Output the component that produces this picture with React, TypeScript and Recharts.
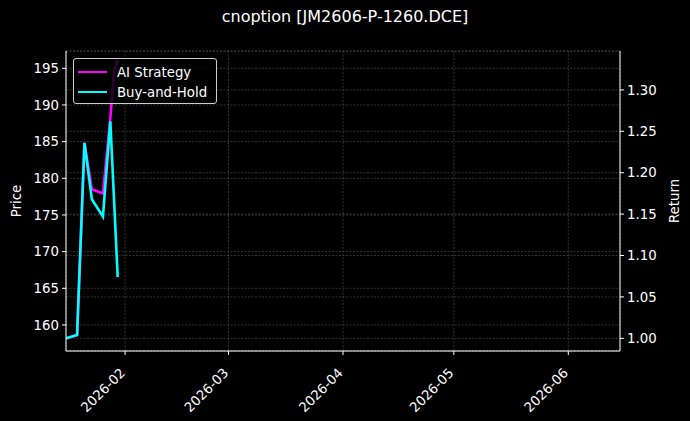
import { LineChart, Line, XAxis, YAxis, CartesianGrid, Legend } from 'recharts';

// dates of the sampled bars (UTC, 2026)
const dates = ['2026-01-16', '2026-01-19', '2026-01-21', '2026-01-23', '2026-01-26', '2026-01-28', '2026-01-29', '2026-01-30'];
// cumulative return of the strategy and of buy-and-hold
const aiStrategy = [1.0, 1.004, 1.236, 1.18, 1.175, 1.266, 1.322, 1.336];
const buyAndHold: (number | null)[] = [1.0, 1.004, 1.236, 1.168, 1.147, 1.262, null, 1.074];

const monthTicks = ['2026-02-01', '2026-03-01', '2026-04-01', '2026-05-01', '2026-06-01'];
const priceTicks = [160, 165, 170, 175, 180, 185, 190, 195];
const returnTicks = [1.0, 1.05, 1.1, 1.15, 1.2, 1.25, 1.3];

const toTs = (d: string) => Date.parse(d + 'T00:00:00Z');
const xDomain = [toTs('2026-01-16'), toTs('2026-06-15')];

const data = dates.map((d, i) => ({ t: toTs(d), ai: aiStrategy[i], bh: buyAndHold[i] }));

const FONT = '"DejaVu Sans", sans-serif';
const AI_COLOR = '#ff00ff';
const BH_COLOR = '#00ffff';

function fmtMonth(ts: number) {
  const d = new Date(ts);
  return `${d.getUTCFullYear()}-${String(d.getUTCMonth() + 1).padStart(2, '0')}`;
}

function DateTick({ x, y, payload }: any) {
  const ax = x - 6;
  const ay = y + 10;
  return (
    <text
      x={ax}
      y={ay}
      transform={`rotate(-45 ${ax} ${ay})`}
      textAnchor="end"
      dominantBaseline="hanging"
      fill="#ffffff"
      fontSize={13.3}
      fontFamily={FONT}
    >
      {fmtMonth(payload.value)}
    </text>
  );
}

function LegendBox() {
  const items = [
    { name: 'AI Strategy', color: AI_COLOR },
    { name: 'Buy-and-Hold', color: BH_COLOR },
  ];
  return (
    <div
      style={{
        position: 'absolute',
        left: 73,
        top: 58,
        width: 144,
        height: 46,
        boxSizing: 'border-box',
        border: '1px solid #cccccc',
        borderRadius: 3,
        background: 'rgba(0,0,0,0.8)',
        padding: '3px 0 0 4px',
      }}
    >
      {items.map((it) => (
        <div key={it.name} style={{ display: 'flex', alignItems: 'center', height: 20 }}>
          <div style={{ width: 29, height: 2.5, background: it.color, marginRight: 10 }} />
          <span style={{ color: '#ffffff', fontSize: 13.3, fontFamily: FONT }}>{it.name}</span>
        </div>
      ))}
    </div>
  );
}

export default function App() {
  return (
    <div style={{ position: 'absolute', left: 0, top: 0, width: 690, height: 421, background: '#000000', fontFamily: FONT }}>
      <div style={{ position: 'absolute', left: 0, width: 690, top: 7, textAlign: 'center', color: '#ffffff', fontSize: 16 }}>
        cnoption [JM2606-P-1260.DCE]
      </div>
      <div style={{ position: 'absolute', left: 16, top: 201, transform: 'translate(-50%,-50%) rotate(-90deg)', color: '#ffffff', fontSize: 13.3 }}>
        Price
      </div>
      <div style={{ position: 'absolute', left: 674, top: 201, transform: 'translate(-50%,-50%) rotate(-90deg)', color: '#ffffff', fontSize: 13.3 }}>
        Return
      </div>
      <LineChart width={690} height={421} data={data} margin={{ top: 51, right: 10, bottom: 10, left: 10 }}>
        <CartesianGrid yAxisId="left" stroke="#555555" strokeWidth={0.6} strokeDasharray="2 1.5" />
        <CartesianGrid yAxisId="right" vertical={false} stroke="#555555" strokeWidth={0.6} strokeDasharray="2 1.5" />
        <XAxis
          dataKey="t"
          type="number"
          scale="time"
          domain={xDomain}
          ticks={monthTicks.map(toTs)}
          interval={0}
          tick={<DateTick />}
          tickSize={4}
          height={60}
          stroke="#ffffff"
          allowDataOverflow
        />
        <XAxis xAxisId="top" orientation="top" dataKey="t" type="number" domain={xDomain} tick={false} tickLine={false} height={0} stroke="#ffffff" />
        <YAxis
          yAxisId="left"
          orientation="left"
          type="number"
          domain={[156.45, 197.36]}
          ticks={priceTicks}
          interval={0}
          width={56}
          tickSize={4}
          tickMargin={3}
          stroke="#ffffff"
          tick={{ fill: '#ffffff', fontSize: 13.3, fontFamily: FONT }}
          allowDataOverflow
        />
        <YAxis
          yAxisId="right"
          orientation="right"
          type="number"
          domain={[0.9847, 1.347]}
          ticks={returnTicks}
          interval={0}
          tickFormatter={(v: number) => v.toFixed(2)}
          width={60}
          tickSize={4}
          tickMargin={3}
          stroke="#ffffff"
          tick={{ fill: '#ffffff', fontSize: 13.3, fontFamily: FONT }}
          allowDataOverflow
        />
        <Legend content={() => null} />
        <Line yAxisId="right" type="linear" dataKey="ai" name="AI Strategy" stroke={AI_COLOR} strokeWidth={2.6} dot={false} isAnimationActive={false} />
        <Line yAxisId="right" type="linear" dataKey="bh" name="Buy-and-Hold" stroke={BH_COLOR} strokeWidth={2.6} dot={false} connectNulls isAnimationActive={false} />
      </LineChart>
      <LegendBox />
    </div>
  );
}
